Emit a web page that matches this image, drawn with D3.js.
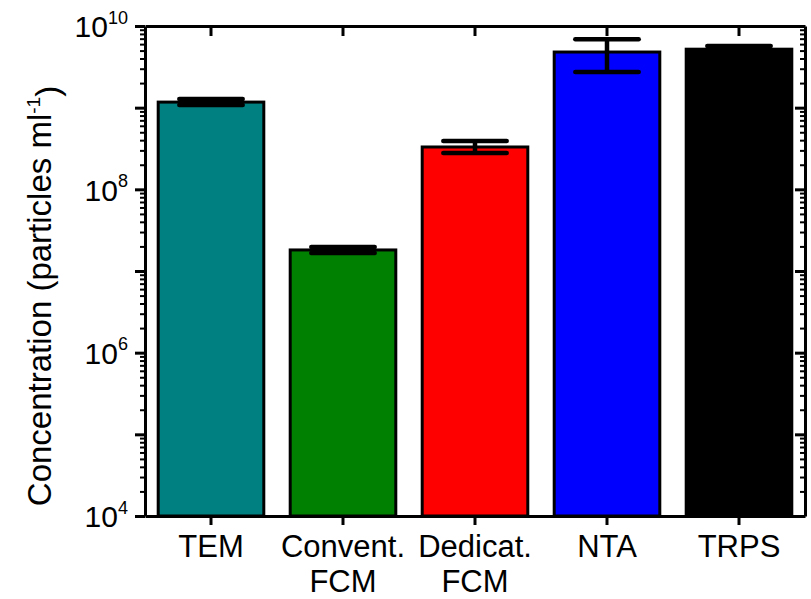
<!DOCTYPE html>
<html lang="en">
<head>
    <meta charset="UTF-8">
    <script src="https://d3js.org/d3.v7.min.js"></script>
    <style>
        body {
            margin: 0;
            background-color: #ffffff;
            overflow: hidden;
        }
        svg {
            font-family: 'Liberation Sans', Arial, sans-serif;
        }
        .axis path, .axis line {
            stroke: #000;
            stroke-width: 3px;
        }
        .minor line {
            stroke-width: 2px;
        }
    </style>
</head>
<body>
    <svg id="chart" width="811" height="599"></svg>

    <script>
        // chart data
        const categories = ["TEM", "Convent. FCM", "Dedicat. FCM", "NTA", "TRPS"];
        const categoryLines = [["TEM"], ["Convent.", "FCM"], ["Dedicat.", "FCM"], ["NTA"], ["TRPS"]];
        const values = [1.17e9, 1.81e7, 3.3e8, 4.8e9, 5.2e9];
        const errLow = [1.08e9, 1.66e7, 2.79e8, 2.73e9, 4.7e9];
        const errHigh = [1.28e9, 1.97e7, 3.9e8, 6.9e9, 5.7e9];
        const barColors = ["#008080", "#008000", "#ff0000", "#0000ff", "#000000"];
        const majorTicks = [1e4, 1e5, 1e6, 1e7, 1e8, 1e9, 1e10];
        const labelExponents = [4, 6, 8, 10];

        const margin = { top: 26, right: 6, bottom: 83, left: 145 };
        const width = 811 - margin.left - margin.right;
        const height = 599 - margin.top - margin.bottom;

        const svg = d3.select("#chart");
        const g = svg.append("g").attr("transform", `translate(${margin.left},${margin.top})`);

        const x = d3.scaleBand()
            .domain(categories)
            .range([0, width])
            .paddingInner(0.2)
            .paddingOuter(0.1);

        const y = d3.scaleLog()
            .domain([1e4, 1e10])
            .range([height, 0]);

        // minor ticks 2..9 per decade
        const minorTicks = [];
        for (let e = 4; e < 10; e++) {
            for (let m = 2; m <= 9; m++) minorTicks.push(m * Math.pow(10, e));
        }

        // bars
        const rows = categories.map((c, i) => ({ c, v: values[i], lo: errLow[i], hi: errHigh[i], color: barColors[i] }));

        g.selectAll(".bar")
            .data(rows)
            .enter()
            .append("rect")
            .attr("class", "bar")
            .attr("x", d => x(d.c))
            .attr("y", d => y(d.v))
            .attr("width", x.bandwidth())
            .attr("height", d => height - y(d.v))
            .attr("fill", d => d.color)
            .attr("stroke", "#000")
            .attr("stroke-width", 3);

        // error bars
        const capW = x.bandwidth() * 0.6;
        const err = g.selectAll(".err")
            .data(rows)
            .enter()
            .append("g")
            .attr("class", "err")
            .attr("stroke", "#000")
            .attr("stroke-width", 4.5);

        err.append("line")
            .attr("x1", d => x(d.c) + x.bandwidth() / 2)
            .attr("x2", d => x(d.c) + x.bandwidth() / 2)
            .attr("y1", d => y(d.lo))
            .attr("y2", d => y(d.hi));
        err.append("line")
            .attr("x1", d => x(d.c) + x.bandwidth() / 2 - capW / 2)
            .attr("x2", d => x(d.c) + x.bandwidth() / 2 + capW / 2)
            .attr("y1", d => y(d.hi))
            .attr("y2", d => y(d.hi))
            .attr("stroke-linecap", "round");
        err.append("line")
            .attr("x1", d => x(d.c) + x.bandwidth() / 2 - capW / 2)
            .attr("x2", d => x(d.c) + x.bandwidth() / 2 + capW / 2)
            .attr("y1", d => y(d.lo))
            .attr("y2", d => y(d.lo))
            .attr("stroke-linecap", "round");

        // left axis minor
        g.append("g")
            .attr("class", "axis minor")
            .call(d3.axisLeft(y).tickValues(minorTicks).tickSize(5).tickFormat(""))
            .select(".domain").remove();
        // right axis minor (inward)
        g.append("g")
            .attr("class", "axis minor")
            .attr("transform", `translate(${width},0)`)
            .call(d3.axisRight(y).tickValues(minorTicks).tickSize(-5).tickFormat(""))
            .select(".domain").remove();

        // left axis major
        const leftAxis = g.append("g")
            .attr("class", "axis")
            .call(d3.axisLeft(y).tickValues(majorTicks).tickSize(10).tickSizeOuter(0).tickFormat(""));

        leftAxis.selectAll(".tick")
            .filter(d => labelExponents.includes(Math.round(Math.log10(d))))
            .append("text")
            .attr("x", -17)
            .attr("dy", "0.36em")
            .attr("text-anchor", "end")
            .attr("fill", "#000")
            .style("font-size", "30px")
            .each(function (d) {
                const t = d3.select(this);
                t.append("tspan").text("10");
                t.append("tspan")
                    .attr("dy", "-0.75em")
                    .style("font-size", "18px")
                    .text(Math.round(Math.log10(d)));
            });

        // right axis major (inward)
        g.append("g")
            .attr("class", "axis")
            .attr("transform", `translate(${width},0)`)
            .call(d3.axisRight(y).tickValues(majorTicks).tickSize(-10).tickSizeOuter(0).tickFormat(""));

        // bottom axis
        const bottomAxis = g.append("g")
            .attr("class", "axis")
            .attr("transform", `translate(0,${height})`)
            .call(d3.axisBottom(x).tickSize(9).tickSizeOuter(0).tickFormat(""));

        bottomAxis.selectAll(".tick")
            .append("text")
            .attr("fill", "#000")
            .attr("text-anchor", "middle")
            .style("font-size", "31px")
            .each(function (d, i) {
                const t = d3.select(this);
                categoryLines[i].forEach((line, k) => {
                    t.append("tspan")
                        .attr("x", 0)
                        .attr("y", 41 + k * 35)
                        .text(line);
                });
            });

        // top axis (inward)
        g.append("g")
            .attr("class", "axis")
            .call(d3.axisTop(x).tickSize(-10).tickSizeOuter(0).tickFormat(""));

        // y-axis title
        const yTitle = svg.append("text")
            .attr("transform", `translate(51,${margin.top + height / 2 + 25}) rotate(-90)`)
            .attr("text-anchor", "middle")
            .attr("fill", "#000")
            .style("font-size", "33px");
        yTitle.append("tspan").text("Concentration (particles ml");
        yTitle.append("tspan").attr("dy", "-0.6em").style("font-size", "19px").text("-1");
        yTitle.append("tspan").attr("dy", "0.6em").text(")");
    </script>
</body>
</html>
